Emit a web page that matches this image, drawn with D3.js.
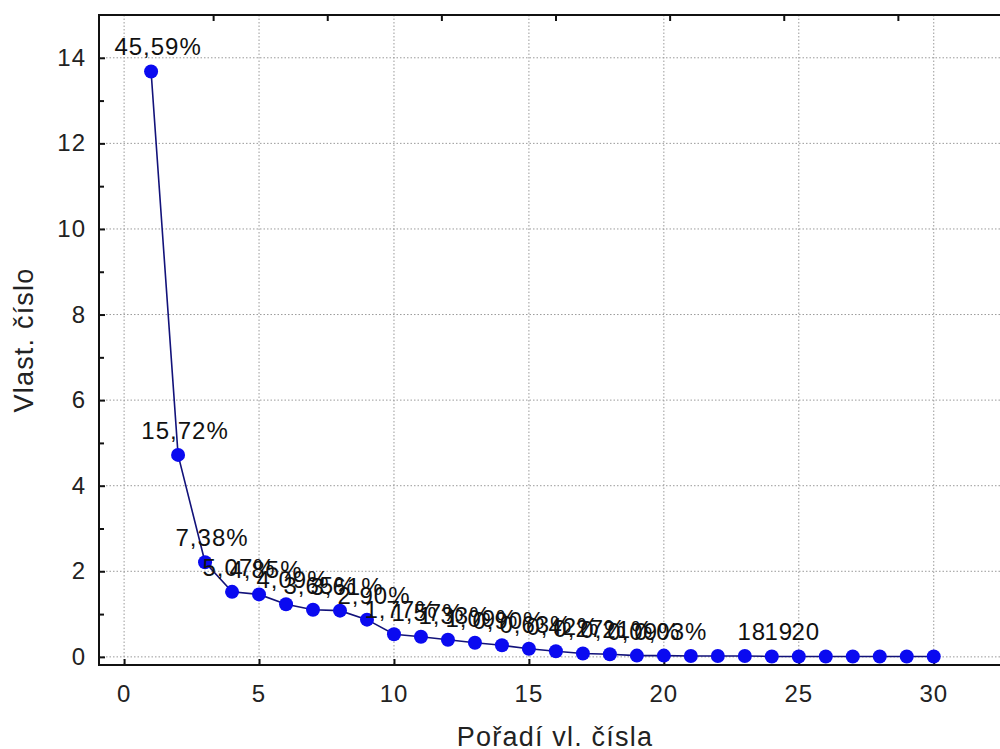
<!DOCTYPE html>
<html>
<head>
<meta charset="utf-8">
<script src="https://cdn.jsdelivr.net/npm/d3@7/dist/d3.min.js"></script>
<style>
	body { margin: 0; background: #fff; }
	svg { display: block; }
	.tick-label { font-family: "Liberation Sans", Arial, sans-serif; font-size: 24px; fill: #222; letter-spacing: 1px; }
	.axis-title { font-family: "Liberation Sans", Arial, sans-serif; font-size: 27px; fill: #222; letter-spacing: 1.2px; }
	.pct { font-family: "Liberation Sans", Arial, sans-serif; font-size: 24px; fill: #111; letter-spacing: 1px; }
	.grid line { stroke: #9a9a9a; stroke-width: 1; stroke-dasharray: 1.5,2; }
</style>
</head>
<body>
<svg id="chart" width="1000" height="749"></svg>
<script>

//data
var order = [1,2,3,4,5,6,7,8,9,10,11,12,13,14,15,16,17,18,19,20,21,22,23,24,25,26,27,28,29,30];
var eigen = [13.68, 4.72, 2.21, 1.52, 1.46, 1.23, 1.10, 1.08, 0.87, 0.53,
	0.47, 0.40, 0.33, 0.27, 0.19, 0.13, 0.08, 0.06, 0.03, 0.03,
	0.02, 0.02, 0.02, 0.01, 0.01, 0.01, 0.01, 0.01, 0.01, 0.01];
var pctLabels = ["45,59%","15,72%","7,38%","5,07%","4,85%","4,09%","3,65%","3,61%","2,90%","1,77%",
	"1,57%","1,33%","1,09%","0,90%","0,63%","0,42%","0,27%","0,21%","0,09%","0,03%",
	"","","18","19","20","","","","",""];
var xTicks = [0,5,10,15,20,25,30];
var yTicks = [0,2,4,6,8,10,12,14];
var yMinor = [1,3,5,7,9,11,13];
var topTicks = [1,2,3,4,5,6,7];
var xTitle = "Pořadí vl. čísla",
	yTitle = "Vlast. číslo";

//main variables
var svg = d3.select("#chart"),
	pLeft = 99,
	pRight = 1012,
	pTop = 15,
	pBottom = 665;

var x = d3.scaleLinear().domain([-0.93, 32.9]).range([pLeft, pRight]),
	y = d3.scaleLinear().domain([-0.19, 15]).range([pBottom, pTop]),
	xTop = d3.scaleLinear().domain([0, 8]).range([pLeft, pRight]);

var points = order.map(function(d, i){
	return {n: d, v: eigen[i], label: pctLabels[i]};
});

//--------------GRID-----------------------------------------
var grid = svg.append("g").attr("class", "grid");

grid.selectAll(".gy")
	.data(yTicks)
	.enter().append("line")
	.attr("x1", pLeft).attr("x2", pRight)
	.attr("y1", function(d){ return y(d); })
	.attr("y2", function(d){ return y(d); });

grid.selectAll(".gx")
	.data(xTicks)
	.enter().append("line")
	.attr("y1", pTop).attr("y2", pBottom)
	.attr("x1", function(d){ return x(d); })
	.attr("x2", function(d){ return x(d); });

//--------------AXES-----------------------------------------
var xAxis = d3.axisBottom(x).tickValues(xTicks).tickSize(-6).tickFormat("");
svg.append("g").attr("transform", "translate(0," + pBottom + ")").call(xAxis)
	.call(function(g){ g.select(".domain").remove(); });

var yAxis = d3.axisLeft(y).tickValues(yTicks).tickSize(-6).tickFormat("");
svg.append("g").attr("transform", "translate(" + pLeft + ",0)").call(yAxis)
	.call(function(g){ g.select(".domain").remove(); });

var yAxisMinor = d3.axisLeft(y).tickValues(yMinor).tickSize(-5).tickFormat("");
svg.append("g").attr("transform", "translate(" + pLeft + ",0)").call(yAxisMinor)
	.call(function(g){ g.select(".domain").remove(); });

var topAxis = d3.axisTop(xTop).tickValues(topTicks).tickSize(-6).tickFormat("");
svg.append("g").attr("transform", "translate(0," + pTop + ")").call(topAxis)
	.call(function(g){ g.select(".domain").remove(); });

svg.selectAll(".tick line").attr("stroke", "#111").attr("stroke-width", 2);

//frame
svg.append("rect")
	.attr("x", pLeft).attr("y", pTop)
	.attr("width", pRight - pLeft).attr("height", pBottom - pTop)
	.attr("fill", "none").attr("stroke", "#111").attr("stroke-width", 2);

//tick labels
svg.selectAll(".xl")
	.data(xTicks)
	.enter().append("text")
	.attr("class", "tick-label")
	.attr("text-anchor", "middle")
	.attr("x", function(d){ return x(d); })
	.attr("y", 702)
	.text(function(d){ return d; });

svg.selectAll(".yl")
	.data(yTicks)
	.enter().append("text")
	.attr("class", "tick-label")
	.attr("text-anchor", "end")
	.attr("x", 86)
	.attr("y", function(d){ return y(d) + 8; })
	.text(function(d){ return d; });

//titles
svg.append("text")
	.attr("class", "axis-title")
	.attr("text-anchor", "middle")
	.attr("x", 555).attr("y", 746)
	.text(xTitle);

svg.append("text")
	.attr("class", "axis-title")
	.attr("text-anchor", "middle")
	.attr("transform", "translate(33,340) rotate(-90)")
	.text(yTitle);

//--------------LINE + POINTS-----------------------------------------
var line = d3.line()
	.x(function(d){ return x(d.n); })
	.y(function(d){ return y(d.v); });

svg.append("path")
	.datum(points)
	.attr("d", line)
	.attr("fill", "none")
	.attr("stroke", "#12127a")
	.attr("stroke-width", 1.6);

svg.selectAll(".pt")
	.data(points)
	.enter().append("circle")
	.attr("cx", function(d){ return x(d.n); })
	.attr("cy", function(d){ return y(d.v); })
	.attr("r", 7)
	.attr("fill", "#0a0af0");

svg.selectAll(".pct")
	.data(points.filter(function(d){ return d.label !== ""; }))
	.enter().append("text")
	.attr("class", "pct")
	.attr("text-anchor", "middle")
	.attr("x", function(d){ return x(d.n) + 7; })
	.attr("y", function(d){ return y(d.v) - 16; })
	.text(function(d){ return d.label; });

</script>
</body>
</html>
